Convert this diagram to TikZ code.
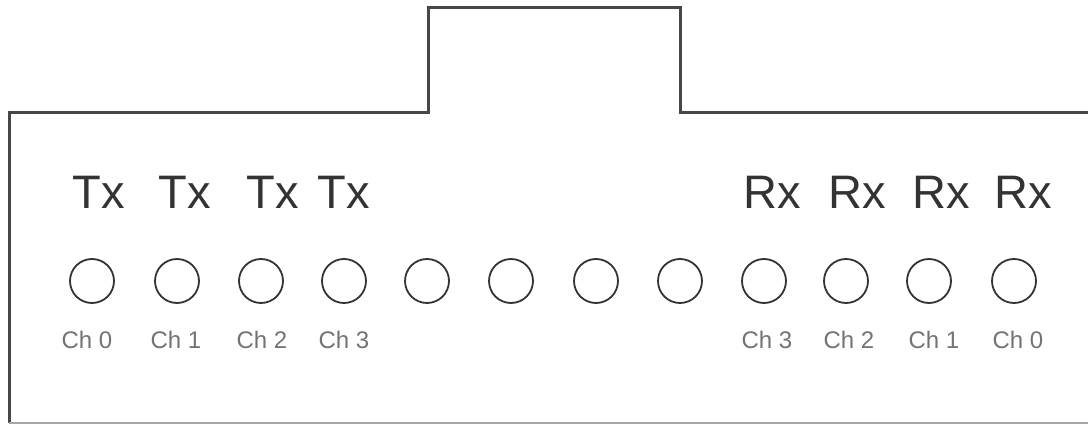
\documentclass[tikz,border=0pt]{standalone}
\usepackage{fontspec}
\setmainfont{Liberation Sans}
\begin{document}
\begin{tikzpicture}[x=1pt,y=-1pt,
  outline/.style={draw=black!72,line width=3pt,line join=miter},
  baseline/.style={draw=black!35,line width=1.5pt},
  port/.style={circle,draw=black!80,line width=1.8pt,minimum size=44pt,inner sep=0pt},
  biglabel/.style={anchor=base,inner sep=0pt,text=black!80,font=\fontsize{47}{50}\selectfont},
  chlabel/.style={anchor=base,inner sep=0pt,text=black!55,font=\fontsize{24}{26}\selectfont}]
\useasboundingbox (0,0) rectangle (1088,425);
% housing outline
\coordinate (r) at (1090,113);
\coordinate (tr) at (680,113);
\coordinate (tt) at (680,8);
\coordinate (tl) at (428,8);
\coordinate (tb) at (428,113);
\coordinate (lt) at (9,113);
\coordinate (lb) at (9,423);
\coordinate (rb) at (1090,423);
\draw[outline] (r) -- (tr) -- (tt) -- (tl) -- (tb) -- (lt) -- (lb);
\draw[baseline] (lb) -- (rb);
% ports
\foreach \i/\x in {0/92,1/177,2/261,3/344,4/427,5/511,6/596,7/680,8/764,9/846,10/929,11/1014}
  \node[port] (p\i) at (\x,281) {};
% Tx / Rx labels
\node[biglabel] (tx0) at (99,208) {Tx};
\node[biglabel] (tx1) at (185,208) {Tx};
\node[biglabel] (tx2) at (273,208) {Tx};
\node[biglabel] (tx3) at (344,208) {Tx};
\node[biglabel] (rx3) at (772,208) {Rx};
\node[biglabel] (rx2) at (857,208) {Rx};
\node[biglabel] (rx1) at (941,208) {Rx};
\node[biglabel] (rx0) at (1023,208) {Rx};
% channel labels
\node[chlabel] (c0) at (87,348) {Ch 0};
\node[chlabel] (c1) at (176,348) {Ch 1};
\node[chlabel] (c2) at (262,348) {Ch 2};
\node[chlabel] (c3) at (344,348) {Ch 3};
\node[chlabel] (d3) at (767,348) {Ch 3};
\node[chlabel] (d2) at (849,348) {Ch 2};
\node[chlabel] (d1) at (934,348) {Ch 1};
\node[chlabel] (d0) at (1018,348) {Ch 0};
\end{tikzpicture}
\end{document}
